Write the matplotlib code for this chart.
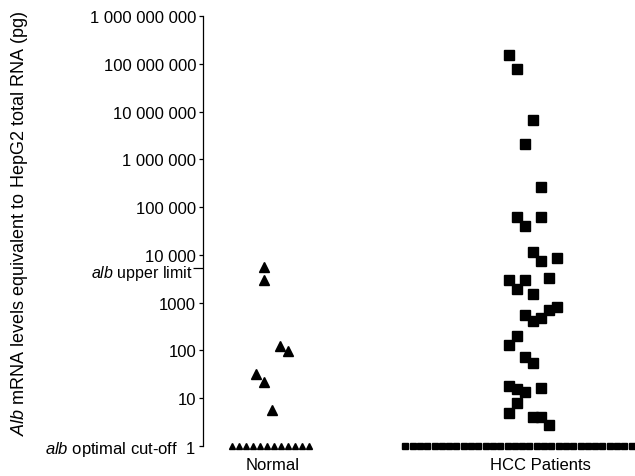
import numpy as np
import matplotlib
matplotlib.use("Agg")
import matplotlib.pyplot as plt
import matplotlib.transforms as mtransforms
from matplotlib.ticker import FixedLocator, FixedFormatter

plt.rcParams['font.family'] = ['Liberation Sans', 'DejaVu Sans']
plt.rcParams['mathtext.fontset'] = 'custom'
plt.rcParams['mathtext.rm'] = 'Liberation Sans'
plt.rcParams['mathtext.it'] = 'Liberation Sans:italic'

# group names
groups = ["Normal", "HCC Patients"]

# Normal samples above the cut-off (value, jitter column)
normal_vals = [5500, 3000, 125, 97, 32, 22, 5.6]
normal_cols = [0, 0, 2, 3, -1, 0, 1]
normal_floor = [1] * 12          # samples at the cut-off

# HCC samples above the cut-off (value, jitter column)
hcc_vals = [1.5e8, 7.7e7, 6.6e6, 2.1e6, 2.6e5, 6.2e4, 6.2e4, 4.0e4,
            1.15e4, 7400, 8500, 2950, 2950, 3250, 1900, 1500,
            550, 415, 475, 700, 810, 200, 130, 73, 55,
            18, 15.5, 13.5, 16, 8, 4.9, 4.0, 4.0, 2.8]
hcc_cols = [-3, -2, 0, -1, 1, -2, 1, -1,
            0, 1, 3, -3, -1, 2, -2, 0,
            -1, 0, 1, 2, 3, -2, -3, -1, 0,
            -3, -2, -1, 1, -2, -3, 0, 1, 2]
hcc_floor = [1] * 32

yticks = [1, 10, 100, 1000, 10000, 100000, 1000000, 10000000, 100000000, 1000000000]
ytick_labels = ["$\\it{alb}$ optimal cut-off  1", "10", "100", "1000", "10 000",
                "100 000", "1 000 000", "10 000 000", "100 000 000", "1 000 000 000"]
upper_limit = 5300
upper_label = "$\\it{alb}$ upper limit"

# layout (x in pixel-like units from the axis)
col_w = 8.0
normal_center, hcc_center = 61, 330
normal_floor_center, hcc_floor_center = 67.5, 315.5
normal_floor_step, hcc_floor_step = 7.0, 7.3

fig = plt.figure(figsize=(6.35, 4.77), dpi=100)
ax = fig.add_axes([203 / 635, 30 / 477, 432 / 635, 430 / 477])

ax.set_yscale('log')
ax.set_ylim(1, 1e9)
ax.set_xlim(0, 432)

nx = normal_center + col_w * np.array(normal_cols)
ax.plot(nx, normal_vals, '^', color='black', ms=7, clip_on=False)
n = len(normal_floor)
fx = normal_floor_center + normal_floor_step * (np.arange(n) - (n - 1) / 2)
ax.plot(fx, normal_floor, '^', color='black', ms=4.4, clip_on=False)

hx = hcc_center + col_w * np.array(hcc_cols)
ax.plot(hx, hcc_vals, 's', color='black', ms=6.8, clip_on=False)
n = len(hcc_floor)
fx = hcc_floor_center + hcc_floor_step * (np.arange(n) - (n - 1) / 2)
ax.plot(fx, hcc_floor, 's', color='black', ms=5.0, clip_on=False)

for s in ['top', 'right', 'bottom']:
    ax.spines[s].set_visible(False)
ax.spines['left'].set_linewidth(0.9)

ax.yaxis.set_major_locator(FixedLocator(yticks))
ax.yaxis.set_major_formatter(FixedFormatter(ytick_labels))
ax.yaxis.set_minor_locator(FixedLocator([upper_limit]))
ax.yaxis.set_minor_formatter(FixedFormatter([""]))
ax.tick_params(axis='y', which='major', length=3, width=0.9, labelsize=12, pad=2)
ax.tick_params(axis='y', which='minor', length=7, width=0.9)

ax.set_xticks([70, 337])
ax.set_xticklabels(groups, fontsize=12)
ax.tick_params(axis='x', length=0, pad=8)

# lift the "10 000" label a touch so it clears the upper-limit label
up = mtransforms.ScaledTranslation(0, 1.5 / 72, fig.dpi_scale_trans)
for tick in ax.yaxis.get_major_ticks():
    if tick.get_loc() == 10000:
        tick.label1.set_transform(tick.label1.get_transform() + up)

# upper-limit label, nudged a little below its tick
ax.annotate(upper_label, xy=(0, upper_limit), xycoords=('axes fraction', 'data'),
            xytext=(-7.5, -3), textcoords='offset points',
            ha='right', va='center', fontsize=11.5, annotation_clip=False)

fig.text(0.030, 0.532, "$\\it{Alb}$ mRNA levels equivalent to HepG2 total RNA (pg)",
         rotation=90, ha='center', va='center', fontsize=13)

fig.savefig("out.png", dpi=100)
